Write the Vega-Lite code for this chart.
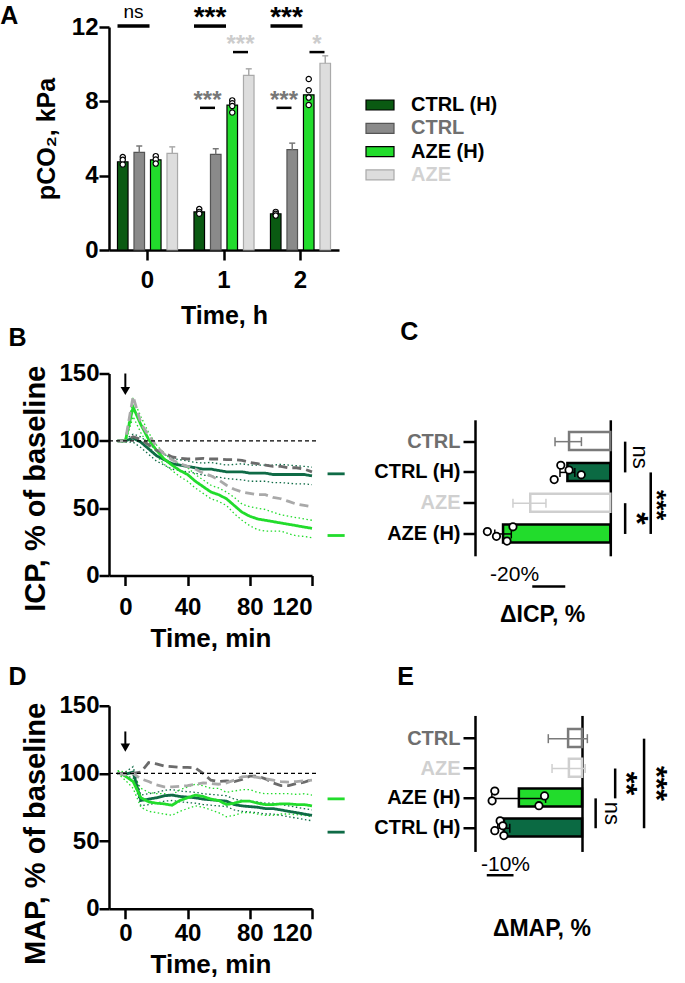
{
"$schema": "https://vega.github.io/schema/vega-lite/v6.json",
"padding": {"left": 0, "top": 3, "right": 0, "bottom": 0},
"background": "white",
"config": {
  "view": {"stroke": null},
  "font": "Liberation Sans",
  "axis": {"domainColor": "#000", "domainWidth": 2.5, "tickColor": "#000", "tickWidth": 2.5, "tickSize": 10, "labelFont": "Liberation Sans", "labelFontSize": 24, "labelFontWeight": "bold", "labelColor": "#000", "titleFont": "Liberation Sans", "titleFontSize": 25, "titleFontWeight": "bold", "titleColor": "#000", "grid": false, "labelPadding": 2},
  "title": {"font": "Liberation Sans", "fontSize": 25, "fontWeight": "bold", "color": "#000", "anchor": "start", "frame": "bounds"}
},
"datasets": {
  "pco2": [
    {"time":"0","g":"CTRL (H)","m":4.75},
    {"time":"0","g":"CTRL","m":5.25,"hi":5.6},
    {"time":"0","g":"AZE (H)","m":4.85},
    {"time":"0","g":"AZE","m":5.2,"hi":5.55},
    {"time":"1","g":"CTRL (H)","m":2.05},
    {"time":"1","g":"CTRL","m":5.15,"hi":5.45},
    {"time":"1","g":"AZE (H)","m":7.8},
    {"time":"1","g":"AZE","m":9.4,"hi":9.75},
    {"time":"2","g":"CTRL (H)","m":1.95},
    {"time":"2","g":"CTRL","m":5.4,"hi":5.75},
    {"time":"2","g":"AZE (H)","m":8.35},
    {"time":"2","g":"AZE","m":10.05,"hi":10.45}
  ],
  "pco2pts": [
    {"time":"0","g":"CTRL (H)","v":5.0},{"time":"0","g":"CTRL (H)","v":4.85},{"time":"0","g":"CTRL (H)","v":4.6},
    {"time":"0","g":"AZE (H)","v":5.05},{"time":"0","g":"AZE (H)","v":4.87},{"time":"0","g":"AZE (H)","v":4.65},
    {"time":"1","g":"CTRL (H)","v":2.2},{"time":"1","g":"CTRL (H)","v":2.05},{"time":"1","g":"CTRL (H)","v":1.95},
    {"time":"1","g":"AZE (H)","v":8.05},{"time":"1","g":"AZE (H)","v":7.9},{"time":"1","g":"AZE (H)","v":7.75},{"time":"1","g":"AZE (H)","v":7.4},
    {"time":"2","g":"CTRL (H)","v":2.05},{"time":"2","g":"CTRL (H)","v":1.95},{"time":"2","g":"CTRL (H)","v":1.85},
    {"time":"2","g":"AZE (H)","v":9.2},{"time":"2","g":"AZE (H)","v":8.6},{"time":"2","g":"AZE (H)","v":8.2},{"time":"2","g":"AZE (H)","v":7.8}
  ],
  "sigA": [
    {"time":"0","cmp":"top","ly":12.05,"ty":12.48,"label":"ns"},
    {"time":"1","cmp":"top","ly":12.05,"ty":12.05,"label":"***"},
    {"time":"2","cmp":"top","ly":12.05,"ty":12.05,"label":"***"},
    {"time":"1","cmp":"grey","ly":7.65,"ty":7.65,"label":"***"},
    {"time":"2","cmp":"grey","ly":7.65,"ty":7.65,"label":"***"},
    {"time":"1","cmp":"light","ly":10.65,"ty":10.65,"label":"***"},
    {"time":"2","cmp":"light","ly":10.65,"ty":10.65,"label":"*"}
  ],
  "icp": [
    {"t":-5,"g":"CTRL (H)","m":100,"lo":100,"hi":100},{"t":0,"g":"CTRL (H)","m":100,"lo":99,"hi":101},{"t":5,"g":"CTRL (H)","m":102,"lo":99,"hi":105},{"t":10,"g":"CTRL (H)","m":99,"lo":95,"hi":103},{"t":15,"g":"CTRL (H)","m":94,"lo":90,"hi":98},{"t":20,"g":"CTRL (H)","m":89,"lo":85,"hi":93},{"t":25,"g":"CTRL (H)","m":86,"lo":82,"hi":90},{"t":30,"g":"CTRL (H)","m":83,"lo":79,"hi":87},{"t":35,"g":"CTRL (H)","m":82,"lo":78,"hi":86},{"t":40,"g":"CTRL (H)","m":81,"lo":77,"hi":85},{"t":45,"g":"CTRL (H)","m":80,"lo":76,"hi":84},{"t":50,"g":"CTRL (H)","m":79,"lo":74.5,"hi":83.5},{"t":55,"g":"CTRL (H)","m":79,"lo":74,"hi":84},{"t":60,"g":"CTRL (H)","m":78,"lo":73,"hi":83},{"t":65,"g":"CTRL (H)","m":77,"lo":72,"hi":82},{"t":70,"g":"CTRL (H)","m":77,"lo":71.5,"hi":82.5},{"t":75,"g":"CTRL (H)","m":77,"lo":71,"hi":83},{"t":80,"g":"CTRL (H)","m":76,"lo":70,"hi":82},{"t":85,"g":"CTRL (H)","m":76,"lo":70,"hi":82},{"t":90,"g":"CTRL (H)","m":76,"lo":70,"hi":82},{"t":95,"g":"CTRL (H)","m":75,"lo":69,"hi":82},{"t":100,"g":"CTRL (H)","m":75,"lo":69,"hi":82.5},{"t":105,"g":"CTRL (H)","m":75,"lo":68.5,"hi":82},{"t":110,"g":"CTRL (H)","m":75,"lo":68,"hi":81.5},{"t":115,"g":"CTRL (H)","m":75,"lo":68,"hi":81},{"t":120,"g":"CTRL (H)","m":74,"lo":67.5,"hi":80.5},
    {"t":-5,"g":"AZE (H)","m":100,"lo":100,"hi":100},{"t":0,"g":"AZE (H)","m":100,"lo":99,"hi":101},{"t":5,"g":"AZE (H)","m":125,"lo":118,"hi":131},{"t":10,"g":"AZE (H)","m":112,"lo":106,"hi":118},{"t":15,"g":"AZE (H)","m":101,"lo":96,"hi":106},{"t":20,"g":"AZE (H)","m":93,"lo":89,"hi":97},{"t":25,"g":"AZE (H)","m":86.5,"lo":82.5,"hi":90.5},{"t":30,"g":"AZE (H)","m":82,"lo":78,"hi":86},{"t":35,"g":"AZE (H)","m":78,"lo":73.5,"hi":82.5},{"t":40,"g":"AZE (H)","m":75,"lo":70,"hi":80},{"t":45,"g":"AZE (H)","m":70,"lo":65,"hi":75},{"t":50,"g":"AZE (H)","m":66,"lo":61,"hi":71},{"t":55,"g":"AZE (H)","m":62,"lo":57,"hi":67},{"t":60,"g":"AZE (H)","m":60,"lo":55,"hi":65},{"t":65,"g":"AZE (H)","m":57,"lo":52,"hi":62},{"t":70,"g":"AZE (H)","m":52,"lo":46,"hi":58},{"t":75,"g":"AZE (H)","m":47,"lo":41,"hi":53},{"t":80,"g":"AZE (H)","m":44,"lo":37,"hi":51},{"t":85,"g":"AZE (H)","m":42,"lo":34,"hi":50},{"t":90,"g":"AZE (H)","m":41,"lo":33,"hi":49},{"t":95,"g":"AZE (H)","m":40,"lo":33,"hi":47},{"t":100,"g":"AZE (H)","m":39,"lo":33,"hi":45},{"t":105,"g":"AZE (H)","m":38,"lo":31,"hi":44},{"t":110,"g":"AZE (H)","m":37,"lo":29.5,"hi":43},{"t":115,"g":"AZE (H)","m":36,"lo":29,"hi":42},{"t":120,"g":"AZE (H)","m":35,"lo":28,"hi":41},
    {"t":-5,"g":"CTRL","m":100},{"t":0,"g":"CTRL","m":100},{"t":5,"g":"CTRL","m":103},{"t":10,"g":"CTRL","m":101},{"t":15,"g":"CTRL","m":97},{"t":20,"g":"CTRL","m":93},{"t":25,"g":"CTRL","m":91},{"t":30,"g":"CTRL","m":88},{"t":35,"g":"CTRL","m":87},{"t":40,"g":"CTRL","m":86.5},{"t":45,"g":"CTRL","m":86.5},{"t":50,"g":"CTRL","m":87},{"t":55,"g":"CTRL","m":86.5},{"t":60,"g":"CTRL","m":86.5},{"t":65,"g":"CTRL","m":86},{"t":70,"g":"CTRL","m":86},{"t":75,"g":"CTRL","m":85.5},{"t":80,"g":"CTRL","m":84},{"t":85,"g":"CTRL","m":83},{"t":90,"g":"CTRL","m":82},{"t":95,"g":"CTRL","m":81},{"t":100,"g":"CTRL","m":81},{"t":105,"g":"CTRL","m":80},{"t":110,"g":"CTRL","m":80},{"t":115,"g":"CTRL","m":79},{"t":120,"g":"CTRL","m":77},
    {"t":-5,"g":"AZE","m":100},{"t":0,"g":"AZE","m":100},{"t":5,"g":"AZE","m":133},{"t":10,"g":"AZE","m":113},{"t":15,"g":"AZE","m":104},{"t":20,"g":"AZE","m":96},{"t":25,"g":"AZE","m":90},{"t":30,"g":"AZE","m":86},{"t":35,"g":"AZE","m":83},{"t":40,"g":"AZE","m":81},{"t":45,"g":"AZE","m":79},{"t":50,"g":"AZE","m":76},{"t":55,"g":"AZE","m":74},{"t":60,"g":"AZE","m":71},{"t":65,"g":"AZE","m":67},{"t":70,"g":"AZE","m":64},{"t":75,"g":"AZE","m":62},{"t":80,"g":"AZE","m":61},{"t":85,"g":"AZE","m":60},{"t":90,"g":"AZE","m":60},{"t":95,"g":"AZE","m":58},{"t":100,"g":"AZE","m":57},{"t":105,"g":"AZE","m":55},{"t":110,"g":"AZE","m":53},{"t":115,"g":"AZE","m":52},{"t":120,"g":"AZE","m":51}
  ],
  "map": [
    {"t":-5,"g":"CTRL (H)","m":100,"lo":100,"hi":100},{"t":0,"g":"CTRL (H)","m":99.5,"lo":98,"hi":101},{"t":5,"g":"CTRL (H)","m":101,"lo":97,"hi":105},{"t":10,"g":"CTRL (H)","m":80,"lo":76,"hi":84},{"t":15,"g":"CTRL (H)","m":81,"lo":77,"hi":85},{"t":20,"g":"CTRL (H)","m":82,"lo":78,"hi":86},{"t":25,"g":"CTRL (H)","m":83.5,"lo":79.5,"hi":87.5},{"t":30,"g":"CTRL (H)","m":84,"lo":80,"hi":88},{"t":35,"g":"CTRL (H)","m":83,"lo":79,"hi":87},{"t":40,"g":"CTRL (H)","m":82.5,"lo":78.5,"hi":86.5},{"t":45,"g":"CTRL (H)","m":82,"lo":78,"hi":86},{"t":50,"g":"CTRL (H)","m":81,"lo":77,"hi":85},{"t":55,"g":"CTRL (H)","m":80.5,"lo":76.5,"hi":84.5},{"t":60,"g":"CTRL (H)","m":80,"lo":76,"hi":84},{"t":65,"g":"CTRL (H)","m":79.5,"lo":75.5,"hi":83.5},{"t":70,"g":"CTRL (H)","m":77,"lo":73,"hi":81},{"t":75,"g":"CTRL (H)","m":76,"lo":72,"hi":80},{"t":80,"g":"CTRL (H)","m":75.5,"lo":71.5,"hi":79.5},{"t":85,"g":"CTRL (H)","m":75,"lo":71,"hi":79},{"t":90,"g":"CTRL (H)","m":74,"lo":70,"hi":78},{"t":95,"g":"CTRL (H)","m":74,"lo":70,"hi":78},{"t":100,"g":"CTRL (H)","m":73,"lo":69,"hi":77},{"t":105,"g":"CTRL (H)","m":72,"lo":68,"hi":76},{"t":110,"g":"CTRL (H)","m":71,"lo":67,"hi":75},{"t":115,"g":"CTRL (H)","m":70,"lo":66,"hi":74},{"t":120,"g":"CTRL (H)","m":69,"lo":65,"hi":73},
    {"t":-5,"g":"AZE (H)","m":101,"lo":100,"hi":102},{"t":0,"g":"AZE (H)","m":98,"lo":95,"hi":101},{"t":5,"g":"AZE (H)","m":94,"lo":89,"hi":99},{"t":10,"g":"AZE (H)","m":82,"lo":75,"hi":89},{"t":15,"g":"AZE (H)","m":79,"lo":72,"hi":86},{"t":20,"g":"AZE (H)","m":78,"lo":71,"hi":85},{"t":25,"g":"AZE (H)","m":77.5,"lo":70,"hi":85},{"t":30,"g":"AZE (H)","m":76.5,"lo":69,"hi":84},{"t":35,"g":"AZE (H)","m":80,"lo":72,"hi":88},{"t":40,"g":"AZE (H)","m":82,"lo":74,"hi":90},{"t":45,"g":"AZE (H)","m":84,"lo":76,"hi":92},{"t":50,"g":"AZE (H)","m":83,"lo":75,"hi":91},{"t":55,"g":"AZE (H)","m":81,"lo":73,"hi":89},{"t":60,"g":"AZE (H)","m":80,"lo":71,"hi":89},{"t":65,"g":"AZE (H)","m":77,"lo":68,"hi":86},{"t":70,"g":"AZE (H)","m":78,"lo":69,"hi":87},{"t":75,"g":"AZE (H)","m":79.5,"lo":71,"hi":88},{"t":80,"g":"AZE (H)","m":79.5,"lo":71,"hi":88},{"t":85,"g":"AZE (H)","m":78,"lo":70,"hi":86},{"t":90,"g":"AZE (H)","m":77,"lo":69,"hi":85},{"t":95,"g":"AZE (H)","m":77,"lo":69,"hi":85},{"t":100,"g":"AZE (H)","m":77.5,"lo":70,"hi":85},{"t":105,"g":"AZE (H)","m":77.5,"lo":70,"hi":85},{"t":110,"g":"AZE (H)","m":77,"lo":69.5,"hi":84.5},{"t":115,"g":"AZE (H)","m":77,"lo":69,"hi":85},{"t":120,"g":"AZE (H)","m":76,"lo":68,"hi":84},
    {"t":-5,"g":"CTRL","m":100},{"t":0,"g":"CTRL","m":100},{"t":5,"g":"CTRL","m":100},{"t":10,"g":"CTRL","m":101},{"t":15,"g":"CTRL","m":108},{"t":20,"g":"CTRL","m":107},{"t":25,"g":"CTRL","m":105.5},{"t":30,"g":"CTRL","m":105},{"t":35,"g":"CTRL","m":104.5},{"t":40,"g":"CTRL","m":104.5},{"t":45,"g":"CTRL","m":104},{"t":50,"g":"CTRL","m":100},{"t":55,"g":"CTRL","m":95},{"t":60,"g":"CTRL","m":94},{"t":65,"g":"CTRL","m":94.5},{"t":70,"g":"CTRL","m":94},{"t":75,"g":"CTRL","m":95.5},{"t":80,"g":"CTRL","m":98},{"t":85,"g":"CTRL","m":98},{"t":90,"g":"CTRL","m":96},{"t":95,"g":"CTRL","m":93},{"t":100,"g":"CTRL","m":91},{"t":105,"g":"CTRL","m":91},{"t":110,"g":"CTRL","m":92.5},{"t":115,"g":"CTRL","m":93.5},{"t":120,"g":"CTRL","m":95.5},
    {"t":-5,"g":"AZE","m":100},{"t":0,"g":"AZE","m":99},{"t":5,"g":"AZE","m":100},{"t":10,"g":"AZE","m":96},{"t":15,"g":"AZE","m":94},{"t":20,"g":"AZE","m":91.5},{"t":25,"g":"AZE","m":90},{"t":30,"g":"AZE","m":90},{"t":35,"g":"AZE","m":90.5},{"t":40,"g":"AZE","m":91},{"t":45,"g":"AZE","m":92},{"t":50,"g":"AZE","m":93},{"t":55,"g":"AZE","m":92.5},{"t":60,"g":"AZE","m":92},{"t":65,"g":"AZE","m":93},{"t":70,"g":"AZE","m":95},{"t":75,"g":"AZE","m":97.5},{"t":80,"g":"AZE","m":98},{"t":85,"g":"AZE","m":97},{"t":90,"g":"AZE","m":96},{"t":95,"g":"AZE","m":95},{"t":100,"g":"AZE","m":94},{"t":105,"g":"AZE","m":93.5},{"t":110,"g":"AZE","m":94},{"t":115,"g":"AZE","m":94.5},{"t":120,"g":"AZE","m":95}
  ],
  "dicp": [
    {"g":"CTRL","m":-25,"lo":-33.5,"hi":-17.5},
    {"g":"CTRL (H)","m":-26,"lo":-30.5,"hi":-21.5},
    {"g":"AZE","m":-48.5,"lo":-59,"hi":-39},
    {"g":"AZE (H)","m":-65,"lo":-70,"hi":-60}
  ],
  "dicppts": [
    {"g":"CTRL (H)","rep":1,"v":-30},{"g":"CTRL (H)","rep":2,"v":-25},{"g":"CTRL (H)","rep":3,"v":-17.6},{"g":"CTRL (H)","rep":4,"v":-34},
    {"g":"AZE (H)","rep":1,"v":-59},{"g":"AZE (H)","rep":2,"v":-74.5},{"g":"AZE (H)","rep":3,"v":-69},{"g":"AZE (H)","rep":4,"v":-62.6}
  ],
  "csig": [
    {"bx":9,"from":"CTRL","to":"CTRL (H)","label":"ns","tx":18.2,"ty":"CTRL","pos":"half"},
    {"bx":9,"from":"AZE","to":"AZE (H)","label":"*","tx":15.6,"ty":"AZE","pos":"half"},
    {"bx":24.5,"from":"CTRL (H)","to":"AZE (H)","label":"***","tx":27.5,"ty":"AZE","pos":"on"}
  ],
  "dmap": [
    {"g":"CTRL","m":-5.2,"lo":-12.6,"hi":2},
    {"g":"AZE","m":-4.9,"lo":-11.2,"hi":1.2},
    {"g":"AZE (H)","m":-23.6,"lo":-33.7,"hi":-13.6},
    {"g":"CTRL (H)","m":-29.2,"lo":-31.5,"hi":-27}
  ],
  "dmappts": [
    {"g":"AZE (H)","rep":1,"v":-32.6},{"g":"AZE (H)","rep":2,"v":-14},{"g":"AZE (H)","rep":3,"v":-33.6},{"g":"AZE (H)","rep":4,"v":-16.1},
    {"g":"CTRL (H)","rep":1,"v":-30.6},{"g":"CTRL (H)","rep":2,"v":-29.6},{"g":"CTRL (H)","rep":3,"v":-32.6},{"g":"CTRL (H)","rep":4,"v":-29.2}
  ],
  "esig": [
    {"bx":5.1,"from":"AZE (H)","to":"CTRL (H)","label":"ns","tx":11.2,"ty":"AZE (H)","pos":"half"},
    {"bx":12.4,"from":"AZE","to":"AZE (H)","label":"**","tx":16.4,"ty":"AZE","pos":"half"},
    {"bx":23.2,"from":"CTRL","to":"CTRL (H)","label":"***","tx":27.7,"ty":"AZE","pos":"half"}
  ]
},
"resolve": {"scale": {"x": "independent", "y": "independent", "color": "independent", "fill": "independent", "stroke": "independent", "strokeDash": "independent", "xOffset": "independent", "yOffset": "independent"}},
"spacing": 11.75,
"vconcat": [
 {
  "spacing": -8.5,
  "resolve": {"scale": {"x": "independent", "y": "independent", "color": "independent", "fill": "independent", "stroke": "independent", "strokeDash": "independent", "xOffset": "independent", "yOffset": "independent"}},
  "vconcat": [
   {
    "width": 230, "height": 223,
    "title": {"text": "A", "offset": -26.25, "dx": -34},
    "layer": [
     {
      "data": {"name": "pco2"},
      "mark": {"type": "bar", "strokeWidth": 1.2},
      "encoding": {
        "x": {"field": "time", "type": "ordinal", "title": "Time, h", "scale": {"paddingInner": 0.137, "paddingOuter": 0.072}, "axis": {"labelAngle": 0, "labelPadding": 8, "titlePadding": 11}},
        "xOffset": {"field": "g", "type": "nominal", "scale": {"domain": ["CTRL (H)", "CTRL", "AZE (H)", "AZE"], "paddingInner": 0.36, "paddingOuter": 0.18}},
        "y": {"field": "m", "type": "quantitative", "title": "pCO₂, kPa", "scale": {"domain": [0, 12], "nice": false}, "axis": {"values": [0, 4, 8, 12], "titlePadding": 12, "labelPadding": 1}},
        "fill": {"field": "g", "type": "nominal", "scale": {"domain": ["CTRL (H)", "CTRL", "AZE (H)", "AZE"], "range": ["#0a5a12", "#8a8a8a", "#22dc2c", "#dddddd"]},
          "legend": {"orient": "none", "legendX": 261, "legendY": 68, "title": null, "symbolType": "M-2.8,-1L2.8,-1L2.8,1L-2.8,1Z", "symbolSize": 100, "labelFontSize": 20, "labelFontWeight": "bold", "labelFont": "Liberation Sans", "labelOffset": 21, "rowPadding": 3.3, "symbolStrokeWidth": 1.2, "padding": 0,
            "encode": {
              "labels": {"update": {"fill": {"signal": "datum.value === 'CTRL' ? '#707070' : datum.value === 'AZE' ? '#d2d2d2' : '#000000'"}}},
              "symbols": {"update": {"stroke": {"signal": "datum.value === 'CTRL' ? '#555555' : datum.value === 'AZE' ? '#aaaaaa' : '#000000'"}}}
            }}},
        "stroke": {"field": "g", "type": "nominal", "scale": {"domain": ["CTRL (H)", "CTRL", "AZE (H)", "AZE"], "range": ["#000000", "#555555", "#000000", "#aaaaaa"]}, "legend": null}
      }
     },
     {
      "data": {"name": "pco2"},
      "transform": [{"filter": "isValid(datum.hi)"}],
      "mark": {"type": "rule", "strokeWidth": 1.5},
      "encoding": {
        "x": {"field": "time", "type": "ordinal", "title": "Time, h"},
        "xOffset": {"field": "g", "type": "nominal"},
        "y": {"field": "m", "type": "quantitative", "title": "pCO₂, kPa"},
        "y2": {"field": "hi"},
        "color": {"field": "g", "type": "nominal", "scale": {"domain": ["CTRL", "AZE"], "range": ["#777777", "#aaaaaa"]}, "legend": null}
      }
     },
     {
      "data": {"name": "pco2"},
      "transform": [{"filter": "isValid(datum.hi)"}],
      "mark": {"type": "tick", "orient": "horizontal", "size": 6, "thickness": 1.5, "opacity": 1},
      "encoding": {
        "x": {"field": "time", "type": "ordinal", "title": "Time, h"},
        "xOffset": {"field": "g", "type": "nominal"},
        "y": {"field": "hi", "type": "quantitative", "title": "pCO₂, kPa"},
        "color": {"field": "g", "type": "nominal", "legend": null}
      }
     },
     {
      "data": {"name": "pco2pts"},
      "mark": {"type": "point", "shape": "circle", "filled": true, "fill": "#ffffff", "stroke": "#000000", "strokeWidth": 1.2, "size": 28, "opacity": 1},
      "encoding": {
        "x": {"field": "time", "type": "ordinal", "title": "Time, h"},
        "xOffset": {"field": "g", "type": "nominal"},
        "y": {"field": "v", "type": "quantitative", "title": "pCO₂, kPa"}
      }
     },
     {
      "data": {"name": "sigA"},
      "transform": [{"filter": "datum.cmp === 'top'"}],
      "mark": {"type": "tick", "orient": "horizontal", "size": 32, "thickness": 3.5, "color": "#000", "opacity": 1, "xOffset": -14},
      "encoding": {
        "x": {"field": "time", "type": "ordinal", "title": "Time, h"},
        "y": {"field": "ly", "type": "quantitative", "title": "pCO₂, kPa"}
      }
     },
     {
      "data": {"name": "sigA"},
      "transform": [{"filter": "datum.cmp === 'grey'"}],
      "mark": {"type": "tick", "orient": "horizontal", "size": 15, "thickness": 2.5, "color": "#000", "opacity": 1, "xOffset": -16.5},
      "encoding": {
        "x": {"field": "time", "type": "ordinal", "title": "Time, h"},
        "y": {"field": "ly", "type": "quantitative", "title": "pCO₂, kPa"}
      }
     },
     {
      "data": {"name": "sigA"},
      "transform": [{"filter": "datum.cmp === 'light'"}],
      "mark": {"type": "tick", "orient": "horizontal", "size": 15, "thickness": 2.5, "color": "#000", "opacity": 1, "xOffset": 16.5},
      "encoding": {
        "x": {"field": "time", "type": "ordinal", "title": "Time, h"},
        "y": {"field": "ly", "type": "quantitative", "title": "pCO₂, kPa"}
      }
     },
     {
      "data": {"name": "sigA"},
      "transform": [{"filter": "datum.cmp === 'top' && datum.label === 'ns'"}],
      "mark": {"type": "text", "fontSize": 19, "color": "#000", "xOffset": -14, "baseline": "alphabetic"},
      "encoding": {
        "x": {"field": "time", "type": "ordinal", "title": "Time, h"},
        "y": {"field": "ty", "type": "quantitative", "title": "pCO₂, kPa"},
        "text": {"field": "label"}
      }
     },
     {
      "data": {"name": "sigA"},
      "transform": [{"filter": "datum.cmp === 'top' && datum.label !== 'ns'"}],
      "mark": {"type": "text", "fontSize": 28, "fontWeight": "bold", "color": "#000", "xOffset": -14, "baseline": "alphabetic"},
      "encoding": {
        "x": {"field": "time", "type": "ordinal", "title": "Time, h"},
        "y": {"field": "ty", "type": "quantitative", "title": "pCO₂, kPa"},
        "text": {"field": "label"}
      }
     },
     {
      "data": {"name": "sigA"},
      "transform": [{"filter": "datum.cmp === 'grey'"}],
      "mark": {"type": "text", "fontSize": 24, "fontWeight": "bold", "color": "#777777", "xOffset": -16.5, "baseline": "alphabetic"},
      "encoding": {
        "x": {"field": "time", "type": "ordinal", "title": "Time, h"},
        "y": {"field": "ty", "type": "quantitative", "title": "pCO₂, kPa"},
        "text": {"field": "label"}
      }
     },
     {
      "data": {"name": "sigA"},
      "transform": [{"filter": "datum.cmp === 'light'"}],
      "mark": {"type": "text", "fontSize": 24, "fontWeight": "bold", "color": "#cccccc", "xOffset": 16.5, "baseline": "alphabetic"},
      "encoding": {
        "x": {"field": "time", "type": "ordinal", "title": "Time, h"},
        "y": {"field": "ty", "type": "quantitative", "title": "pCO₂, kPa"},
        "text": {"field": "label"}
      }
     }
    ]
   },
   {
    "spacing": 26,
    "resolve": {"scale": {"x": "independent", "y": "independent", "color": "independent", "fill": "independent", "stroke": "independent", "strokeDash": "independent", "xOffset": "independent", "yOffset": "independent"}},
    "hconcat": [
     {
      "width": 203, "height": 202,
      "title": {"text": "B", "offset": 10.75, "dx": -13.5},
      "layer": [
       {
        "data": {"name": "icp"},
        "transform": [{"filter": "isValid(datum.lo)"}],
        "mark": {"type": "line", "strokeWidth": 1.3, "strokeDash": [1.5, 2.5]},
        "encoding": {
          "x": {"field": "t", "type": "quantitative", "title": "Time, min", "scale": {"domain": [-10.5, 120], "nice": false, "zero": false}, "axis": {"values": [0, 40, 80, 120], "labelPadding": 10, "titlePadding": 6, "titleFontSize": 26}},
          "y": {"field": "lo", "type": "quantitative", "title": "ICP, % of baseline", "scale": {"domain": [0, 150], "nice": false}, "axis": {"values": [0, 50, 100, 150], "labelPadding": 0, "titlePadding": 8, "titleFontSize": 29, "titleY": 114.8}},
          "color": {"field": "g", "type": "nominal", "scale": {"domain": ["CTRL (H)", "CTRL", "AZE (H)", "AZE"], "range": ["#0f6b46", "#6b6b6b", "#22dc2c", "#a9a9a9"]}, "legend": null}
        }
       },
       {
        "data": {"name": "icp"},
        "transform": [{"filter": "isValid(datum.hi)"}],
        "mark": {"type": "line", "strokeWidth": 1.3, "strokeDash": [1.5, 2.5]},
        "encoding": {
          "x": {"field": "t", "type": "quantitative", "title": "Time, min"},
          "y": {"field": "hi", "type": "quantitative", "title": "ICP, % of baseline"},
          "color": {"field": "g", "type": "nominal", "legend": null}
        }
       },
       {
        "data": {"name": "icp"},
        "mark": {"type": "line", "strokeWidth": 2.8},
        "encoding": {
          "x": {"field": "t", "type": "quantitative", "title": "Time, min"},
          "y": {"field": "m", "type": "quantitative", "title": "ICP, % of baseline"},
          "color": {"field": "g", "type": "nominal", "legend": null},
          "strokeDash": {"field": "g", "type": "nominal", "scale": {"domain": ["CTRL (H)", "CTRL", "AZE (H)", "AZE"], "range": [[1, 0], [9, 5], [1, 0], [9, 5]]}, "legend": null}
        }
       },
       {
        "data": {"values": [{"a": -10.5, "b": 123, "v": 100}]},
        "mark": {"type": "rule", "color": "#000", "strokeWidth": 1.3, "strokeDash": [4, 3]},
        "encoding": {
          "x": {"field": "a", "type": "quantitative", "title": "Time, min"},
          "x2": {"field": "b"},
          "y": {"field": "v", "type": "quantitative", "title": "ICP, % of baseline"}
        }
       },
       {
        "data": {"values": [{"t": 0, "top": 150, "bot": 139}]},
        "mark": {"type": "rule", "color": "#000", "strokeWidth": 2},
        "encoding": {
          "x": {"field": "t", "type": "quantitative", "title": "Time, min"},
          "y": {"field": "top", "type": "quantitative", "title": "ICP, % of baseline"},
          "y2": {"field": "bot"}
        }
       },
       {
        "data": {"values": [{"t": 0, "v": 137}]},
        "mark": {"type": "point", "shape": "triangle-down", "filled": true, "color": "#000", "size": 90, "opacity": 1},
        "encoding": {
          "x": {"field": "t", "type": "quantitative", "title": "Time, min"},
          "y": {"field": "v", "type": "quantitative", "title": "ICP, % of baseline"}
        }
       },
       {
        "data": {"values": [{"g": "CTRL (H)", "a": 130, "b": 141, "v": 75.5}, {"g": "AZE (H)", "a": 130, "b": 141, "v": 29.7}]},
        "mark": {"type": "rule", "strokeWidth": 2.8},
        "encoding": {
          "x": {"field": "a", "type": "quantitative", "title": "Time, min"},
          "x2": {"field": "b"},
          "y": {"field": "v", "type": "quantitative", "title": "ICP, % of baseline"},
          "color": {"field": "g", "type": "nominal", "legend": null}
        }
       }
      ]
     },
     {
      "width": 135.3, "height": 182.3,
      "title": {"text": "C", "offset": 28.45, "dx": 27},
      "resolve": {"axis": {"y": "independent"}},
      "layer": [
       {
        "data": {"name": "dicp"},
        "mark": {"type": "bar", "strokeWidth": 2.5},
        "encoding": {
          "x": {"field": "m", "type": "quantitative", "scale": {"domain": [-82, 0], "nice": false, "zero": false}, "axis": null},
          "x2": {"datum": 0},
          "y": {"field": "g", "type": "nominal", "title": null, "scale": {"domain": ["CTRL", "CTRL (H)", "AZE", "AZE (H)"], "range": [46.3, 182.3], "paddingInner": 0.38, "paddingOuter": 0.4},
            "axis": {"labelFontSize": 20, "labelPadding": 3, "tickSize": 12, "labelColor": {"condition": [{"test": "datum.value === 'CTRL'", "value": "#6e6e6e"}, {"test": "datum.value === 'AZE'", "value": "#d0d0d0"}], "value": "#000000"}}},
          "fill": {"field": "g", "type": "nominal", "scale": {"domain": ["CTRL", "CTRL (H)", "AZE", "AZE (H)"], "range": ["#ffffff", "#0b6a43", "#ffffff", "#22dc2c"]}, "legend": null},
          "stroke": {"field": "g", "type": "nominal", "scale": {"domain": ["CTRL", "CTRL (H)", "AZE", "AZE (H)"], "range": ["#7a7a7a", "#000000", "#cfcfcf", "#000000"]}, "legend": null}
        }
       },
       {
        "data": {"name": "dicp"},
        "mark": {"type": "rule", "strokeWidth": 1.5},
        "encoding": {
          "x": {"field": "lo", "type": "quantitative", "axis": null},
          "x2": {"field": "hi"},
          "y": {"field": "g", "type": "nominal", "title": null, "axis": {"orient": "right", "labels": false, "ticks": false, "domain": true, "title": null}},
          "color": {"field": "g", "type": "nominal", "scale": {"domain": ["CTRL", "CTRL (H)", "AZE", "AZE (H)"], "range": ["#7a7a7a", "#000000", "#cfcfcf", "#000000"]}, "legend": null}
        }
       },
       {
        "data": {"name": "dicp"},
        "mark": {"type": "tick", "orient": "vertical", "size": 9, "thickness": 1.5, "opacity": 1},
        "encoding": {
          "x": {"field": "lo", "type": "quantitative", "axis": null},
          "y": {"field": "g", "type": "nominal", "axis": null},
          "color": {"field": "g", "type": "nominal", "legend": null}
        }
       },
       {
        "data": {"name": "dicp"},
        "mark": {"type": "tick", "orient": "vertical", "size": 9, "thickness": 1.5, "opacity": 1},
        "encoding": {
          "x": {"field": "hi", "type": "quantitative", "axis": null},
          "y": {"field": "g", "type": "nominal", "axis": null},
          "color": {"field": "g", "type": "nominal", "legend": null}
        }
       },
       {
        "data": {"name": "dicppts"},
        "mark": {"type": "point", "shape": "circle", "filled": true, "fill": "#ffffff", "stroke": "#000000", "strokeWidth": 1.8, "size": 55, "opacity": 1},
        "encoding": {
          "x": {"field": "v", "type": "quantitative", "axis": null},
          "y": {"field": "g", "type": "nominal", "axis": null},
          "yOffset": {"field": "rep", "type": "nominal", "scale": {"domain": [1, 2, 3, 4]}}
        }
       },
       {
        "data": {"name": "csig"},
        "mark": {"type": "rule", "color": "#000", "strokeWidth": 2.5},
        "encoding": {
          "x": {"field": "bx", "type": "quantitative", "axis": null},
          "y": {"field": "from", "type": "nominal", "axis": null},
          "y2": {"field": "to"}
        }
       },
       {
        "data": {"name": "csig"},
        "transform": [{"filter": "datum.label === 'ns'"}],
        "mark": {"type": "text", "angle": 90, "fontSize": 22, "color": "#000", "baseline": "middle", "align": "center", "yOffset": 15.4},
        "encoding": {
          "x": {"field": "tx", "type": "quantitative", "axis": null},
          "y": {"field": "ty", "type": "nominal", "axis": null},
          "text": {"field": "label"}
        }
       },
       {
        "data": {"name": "csig"},
        "transform": [{"filter": "datum.label !== 'ns' && datum.pos === 'half'"}],
        "mark": {"type": "text", "angle": 90, "fontSize": 32, "fontWeight": "bold", "color": "#000", "baseline": "middle", "align": "center", "yOffset": 15.4},
        "encoding": {
          "x": {"field": "tx", "type": "quantitative", "axis": null},
          "y": {"field": "ty", "type": "nominal", "axis": null},
          "text": {"field": "label"}
        }
       },
       {
        "data": {"name": "csig"},
        "transform": [{"filter": "datum.pos === 'on'"}],
        "mark": {"type": "text", "angle": 90, "fontSize": 26, "fontWeight": "bold", "color": "#000", "baseline": "middle", "align": "center", "yOffset": 2},
        "encoding": {
          "x": {"field": "tx", "type": "quantitative", "axis": null},
          "y": {"field": "ty", "type": "nominal", "axis": null},
          "text": {"field": "label"}
        }
       },
       {
        "data": {"values": [{"a": -47.3, "b": -27.3, "at": "AZE (H)"}]},
        "mark": {"type": "rule", "color": "#000", "strokeWidth": 2.5, "yOffset": 52.5},
        "encoding": {
          "x": {"field": "a", "type": "quantitative", "axis": null},
          "x2": {"field": "b"},
          "y": {"field": "at", "type": "nominal", "axis": null}
        }
       },
       {
        "data": {"values": [{"x": -58, "at": "AZE (H)", "label": "-20%"}]},
        "mark": {"type": "text", "fontSize": 21, "color": "#000", "baseline": "middle", "align": "center", "yOffset": 41.5},
        "encoding": {
          "x": {"field": "x", "type": "quantitative", "axis": null},
          "y": {"field": "at", "type": "nominal", "axis": null},
          "text": {"field": "label"}
        }
       },
       {
        "data": {"values": [{"x": -41, "at": "AZE (H)", "label": "ΔICP, %"}]},
        "mark": {"type": "text", "fontSize": 23, "fontWeight": "bold", "color": "#000", "baseline": "middle", "align": "center", "yOffset": 81.5},
        "encoding": {
          "x": {"field": "x", "type": "quantitative", "axis": null},
          "y": {"field": "at", "type": "nominal", "axis": null},
          "text": {"field": "label"}
        }
       }
      ]
     }
    ]
   }
  ]
 },
 {
  "spacing": 26,
  "resolve": {"scale": {"x": "independent", "y": "independent", "color": "independent", "fill": "independent", "stroke": "independent", "strokeDash": "independent", "xOffset": "independent", "yOffset": "independent"}},
  "hconcat": [
   {
    "width": 203, "height": 203,
    "title": {"text": "D", "offset": 4, "dx": -13.5},
    "layer": [
     {
      "data": {"name": "map"},
      "transform": [{"filter": "isValid(datum.lo)"}],
      "mark": {"type": "line", "strokeWidth": 1.3, "strokeDash": [1.5, 2.5]},
      "encoding": {
        "x": {"field": "t", "type": "quantitative", "title": "Time, min", "scale": {"domain": [-10.5, 120], "nice": false, "zero": false}, "axis": {"values": [0, 40, 80, 120], "labelPadding": 3, "titlePadding": 6, "titleFontSize": 26}},
        "y": {"field": "lo", "type": "quantitative", "title": "MAP, % of baseline", "scale": {"domain": [0, 150], "nice": false}, "axis": {"values": [0, 50, 100, 150], "labelPadding": 0, "titlePadding": 8, "titleFontSize": 29, "titleY": 127.7}},
        "color": {"field": "g", "type": "nominal", "scale": {"domain": ["CTRL (H)", "CTRL", "AZE (H)", "AZE"], "range": ["#0f6b46", "#6b6b6b", "#22dc2c", "#a9a9a9"]}, "legend": null}
      }
     },
     {
      "data": {"name": "map"},
      "transform": [{"filter": "isValid(datum.hi)"}],
      "mark": {"type": "line", "strokeWidth": 1.3, "strokeDash": [1.5, 2.5]},
      "encoding": {
        "x": {"field": "t", "type": "quantitative", "title": "Time, min"},
        "y": {"field": "hi", "type": "quantitative", "title": "MAP, % of baseline"},
        "color": {"field": "g", "type": "nominal", "legend": null}
      }
     },
     {
      "data": {"name": "map"},
      "mark": {"type": "line", "strokeWidth": 2.8},
      "encoding": {
        "x": {"field": "t", "type": "quantitative", "title": "Time, min"},
        "y": {"field": "m", "type": "quantitative", "title": "MAP, % of baseline"},
        "color": {"field": "g", "type": "nominal", "legend": null},
        "strokeDash": {"field": "g", "type": "nominal", "scale": {"domain": ["CTRL (H)", "CTRL", "AZE (H)", "AZE"], "range": [[1, 0], [9, 5], [1, 0], [9, 5]]}, "legend": null}
      }
     },
     {
      "data": {"values": [{"a": -10.5, "b": 123, "v": 100}]},
      "mark": {"type": "rule", "color": "#000", "strokeWidth": 1.3, "strokeDash": [4, 3]},
      "encoding": {
        "x": {"field": "a", "type": "quantitative", "title": "Time, min"},
        "x2": {"field": "b"},
        "y": {"field": "v", "type": "quantitative", "title": "MAP, % of baseline"}
      }
     },
     {
      "data": {"values": [{"t": 0, "top": 131, "bot": 121}]},
      "mark": {"type": "rule", "color": "#000", "strokeWidth": 2},
      "encoding": {
        "x": {"field": "t", "type": "quantitative", "title": "Time, min"},
        "y": {"field": "top", "type": "quantitative", "title": "MAP, % of baseline"},
        "y2": {"field": "bot"}
      }
     },
     {
      "data": {"values": [{"t": 0, "v": 119}]},
      "mark": {"type": "point", "shape": "triangle-down", "filled": true, "color": "#000", "size": 90, "opacity": 1},
      "encoding": {
        "x": {"field": "t", "type": "quantitative", "title": "Time, min"},
        "y": {"field": "v", "type": "quantitative", "title": "MAP, % of baseline"}
      }
     },
     {
      "data": {"values": [{"g": "AZE (H)", "a": 130, "b": 141, "v": 81.2}, {"g": "CTRL (H)", "a": 130, "b": 141, "v": 56.6}]},
      "mark": {"type": "rule", "strokeWidth": 2.8},
      "encoding": {
        "x": {"field": "a", "type": "quantitative", "title": "Time, min"},
        "x2": {"field": "b"},
        "y": {"field": "v", "type": "quantitative", "title": "MAP, % of baseline"},
        "color": {"field": "g", "type": "nominal", "legend": null}
      }
     }
    ]
   },
   {
    "width": 107, "height": 145.7,
    "title": {"text": "E", "offset": 16.05, "dx": 24},
    "resolve": {"axis": {"y": "independent"}},
    "layer": [
     {
      "data": {"name": "dmap"},
      "mark": {"type": "bar", "strokeWidth": 2.5},
      "encoding": {
        "x": {"field": "m", "type": "quantitative", "scale": {"domain": [-40, 0], "nice": false, "zero": false}, "axis": null},
        "x2": {"datum": 0},
        "y": {"field": "g", "type": "nominal", "title": null, "scale": {"domain": ["CTRL", "AZE", "AZE (H)", "CTRL (H)"], "range": [9.7, 145.7], "paddingInner": 0.344, "paddingOuter": 0.45},
          "axis": {"labelFontSize": 20, "labelPadding": 3, "tickSize": 12, "labelColor": {"condition": [{"test": "datum.value === 'CTRL'", "value": "#6e6e6e"}, {"test": "datum.value === 'AZE'", "value": "#d0d0d0"}], "value": "#000000"}}},
        "fill": {"field": "g", "type": "nominal", "scale": {"domain": ["CTRL", "CTRL (H)", "AZE", "AZE (H)"], "range": ["#ffffff", "#0b6a43", "#ffffff", "#22dc2c"]}, "legend": null},
        "stroke": {"field": "g", "type": "nominal", "scale": {"domain": ["CTRL", "CTRL (H)", "AZE", "AZE (H)"], "range": ["#7a7a7a", "#000000", "#cfcfcf", "#000000"]}, "legend": null}
      }
     },
     {
      "data": {"name": "dmap"},
      "mark": {"type": "rule", "strokeWidth": 1.5},
      "encoding": {
        "x": {"field": "lo", "type": "quantitative", "axis": null},
        "x2": {"field": "hi"},
        "y": {"field": "g", "type": "nominal", "title": null, "axis": {"orient": "right", "labels": false, "ticks": false, "domain": true, "title": null}},
        "color": {"field": "g", "type": "nominal", "scale": {"domain": ["CTRL", "CTRL (H)", "AZE", "AZE (H)"], "range": ["#7a7a7a", "#000000", "#cfcfcf", "#000000"]}, "legend": null}
      }
     },
     {
      "data": {"name": "dmap"},
      "mark": {"type": "tick", "orient": "vertical", "size": 9, "thickness": 1.5, "opacity": 1},
      "encoding": {
        "x": {"field": "lo", "type": "quantitative", "axis": null},
        "y": {"field": "g", "type": "nominal", "axis": null},
        "color": {"field": "g", "type": "nominal", "legend": null}
      }
     },
     {
      "data": {"name": "dmap"},
      "mark": {"type": "tick", "orient": "vertical", "size": 9, "thickness": 1.5, "opacity": 1},
      "encoding": {
        "x": {"field": "hi", "type": "quantitative", "axis": null},
        "y": {"field": "g", "type": "nominal", "axis": null},
        "color": {"field": "g", "type": "nominal", "legend": null}
      }
     },
     {
      "data": {"name": "dmappts"},
      "mark": {"type": "point", "shape": "circle", "filled": true, "fill": "#ffffff", "stroke": "#000000", "strokeWidth": 1.8, "size": 55, "opacity": 1},
      "encoding": {
        "x": {"field": "v", "type": "quantitative", "axis": null},
        "y": {"field": "g", "type": "nominal", "axis": null},
        "yOffset": {"field": "rep", "type": "nominal", "scale": {"domain": [1, 2, 3, 4]}}
      }
     },
     {
      "data": {"name": "esig"},
      "mark": {"type": "rule", "color": "#000", "strokeWidth": 2.5},
      "encoding": {
        "x": {"field": "bx", "type": "quantitative", "axis": null},
        "y": {"field": "from", "type": "nominal", "axis": null},
        "y2": {"field": "to"}
      }
     },
     {
      "data": {"name": "esig"},
      "transform": [{"filter": "datum.label === 'ns'"}],
      "mark": {"type": "text", "angle": 90, "fontSize": 22, "color": "#000", "baseline": "middle", "align": "center", "yOffset": 15},
      "encoding": {
        "x": {"field": "tx", "type": "quantitative", "axis": null},
        "y": {"field": "ty", "type": "nominal", "axis": null},
        "text": {"field": "label"}
      }
     },
     {
      "data": {"name": "esig"},
      "transform": [{"filter": "datum.label !== 'ns'"}],
      "mark": {"type": "text", "angle": 90, "fontSize": 30, "fontWeight": "bold", "color": "#000", "baseline": "middle", "align": "center", "yOffset": 15},
      "encoding": {
        "x": {"field": "tx", "type": "quantitative", "axis": null},
        "y": {"field": "ty", "type": "nominal", "axis": null},
        "text": {"field": "label"}
      }
     },
     {
      "data": {"values": [{"a": -35.6, "b": -25.6, "at": "CTRL (H)"}]},
      "mark": {"type": "rule", "color": "#000", "strokeWidth": 2.5, "yOffset": 47},
      "encoding": {
        "x": {"field": "a", "type": "quantitative", "axis": null},
        "x2": {"field": "b"},
        "y": {"field": "at", "type": "nominal", "axis": null}
      }
     },
     {
      "data": {"values": [{"x": -28.6, "at": "CTRL (H)", "label": "-10%"}]},
      "mark": {"type": "text", "fontSize": 21, "color": "#000", "baseline": "middle", "align": "center", "yOffset": 37},
      "encoding": {
        "x": {"field": "x", "type": "quantitative", "axis": null},
        "y": {"field": "at", "type": "nominal", "axis": null},
        "text": {"field": "label"}
      }
     },
     {
      "data": {"values": [{"x": -15, "at": "CTRL (H)", "label": "ΔMAP, %"}]},
      "mark": {"type": "text", "fontSize": 23, "fontWeight": "bold", "color": "#000", "baseline": "middle", "align": "center", "yOffset": 101},
      "encoding": {
        "x": {"field": "x", "type": "quantitative", "axis": null},
        "y": {"field": "at", "type": "nominal", "axis": null},
        "text": {"field": "label"}
      }
     }
    ]
   }
  ]
 }
]
}
